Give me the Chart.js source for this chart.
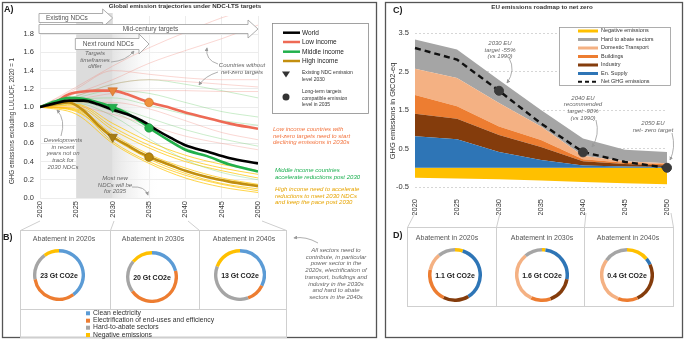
<!DOCTYPE html>
<html>
<head>
<meta charset="utf-8">
<script src="https://cdn.jsdelivr.net/npm/chart.js@4.4.1/dist/chart.umd.min.js"></script>
<style>
  html, body { margin: 0; padding: 0; background: #fff; }
  #root { position: relative; width: 685px; height: 341px; overflow: hidden; font-family: "Liberation Sans", Arial, sans-serif; color: #333; }
  #root canvas { position: absolute; }
  #deco { position: absolute; left: 0; top: 0; }
  .t { position: absolute; white-space: nowrap; line-height: 1; }
  .c { transform: translateX(-50%); text-align: center; }
  .pl { font-weight: bold; font-size: 9px; color: #222; }
  .hd { font-weight: bold; font-size: 6.2px; color: #333; }
  .hand { font-style: italic; font-size: 6px; line-height: 6.7px; color: #666; }
  .ttl { font-size: 7px; color: #555; }
  .ctr { font-size: 7px; font-weight: bold; color: #222; transform: translate(-50%, -50%); }
  .rot { transform: translate(-50%, -50%) rotate(-90deg); }
  .lg { font-size: 6.5px; color: #222; }
  .lgs { font-size: 5px; line-height: 6.5px; color: #333; }
  .lgc { font-size: 5.5px; color: #333; }
  .lgb { font-size: 6.8px; color: #333; }
</style>
</head>
<body>
<div id="root">
  <canvas id="chartA" width="270" height="225" style="left:0;top:0"></canvas>
  <canvas id="chartC" width="295" height="215" style="left:385px;top:0"></canvas>
  <canvas id="donutB1" width="52" height="52" style="left:33px;top:249px"></canvas>
  <canvas id="donutB2" width="52" height="52" style="left:126px;top:251px"></canvas>
  <canvas id="donutB3" width="52" height="52" style="left:214px;top:249px"></canvas>
  <canvas id="donutD1" width="54" height="54" style="left:428px;top:248px"></canvas>
  <canvas id="donutD2" width="54" height="54" style="left:515px;top:248px"></canvas>
  <canvas id="donutD3" width="54" height="54" style="left:600px;top:248px"></canvas>

  <svg id="deco" width="685" height="341">
    <defs>
      <marker id="ah" viewBox="0 0 6 6" refX="5" refY="3" markerWidth="5" markerHeight="5" orient="auto">
        <path d="M0,0 L6,3 L0,6 z" fill="#9a9a9a"/>
      </marker>
    </defs>
    <g fill="none" stroke="#555" stroke-width="1.3">
      <rect x="2.5" y="2.5" width="374" height="335"/>
      <rect x="385.5" y="2.5" width="297" height="335"/>
    </g>
    <g fill="none" stroke="#cfcfcf" stroke-width="1">
      <rect x="20.5" y="230.5" width="266" height="107"/>
      <line x1="110.5" y1="230.5" x2="110.5" y2="309.5"/>
      <line x1="199.5" y1="230.5" x2="199.5" y2="309.5"/>
      <line x1="20.5" y1="309.5" x2="286.5" y2="309.5"/>
      <line x1="40" y1="221" x2="20.5" y2="230.5"/>
      <line x1="114" y1="221" x2="110.5" y2="230.5"/>
      <line x1="188" y1="221" x2="199.5" y2="230.5"/>
      <line x1="262" y1="221" x2="286.5" y2="230.5"/>
      <rect x="407.5" y="227.5" width="266" height="79"/>
      <line x1="496.5" y1="227.5" x2="496.5" y2="306.5"/>
      <line x1="584.5" y1="227.5" x2="584.5" y2="306.5"/>
      <line x1="415" y1="213" x2="407.5" y2="227.5"/>
      <line x1="500" y1="213" x2="496.5" y2="227.5"/>
      <line x1="586" y1="213" x2="584.5" y2="227.5"/>
      <line x1="671" y1="213" x2="673.5" y2="227.5"/>
    </g>
    <g fill="none" stroke="#9a9a9a" stroke-width="0.8" marker-end="url(#ah)">
      <path d="M111,62 Q126,61 134,51"/>
      <path d="M218,64 Q205,60 207,48"/>
      <path d="M218,72 Q205,76 199,85"/>
      <path d="M61,136 Q66,120 57,110"/>
      <path d="M132,187 Q145,186 148,195"/>
      <path d="M318,243 Q306,236 294,238"/>
      <path d="M509,58 Q516,70 507,83"/>
      <path d="M596,120 Q600,135 592,147"/>
      <path d="M672,133 Q676,148 670,160"/>
    </g>
    <!-- legend A -->
    <rect x="272.5" y="23.5" width="96" height="90" fill="#fff" stroke="#8a8a8a" stroke-width="0.8"/>
    <g stroke-width="2.5">
      <line x1="283" y1="32.7" x2="300" y2="32.7" stroke="#000"/>
      <line x1="283" y1="42" x2="300" y2="42" stroke="#ee6a55"/>
      <line x1="283" y1="51.7" x2="300" y2="51.7" stroke="#22b04b"/>
      <line x1="283" y1="61" x2="300" y2="61" stroke="#c38f0f"/>
    </g>
    <path d="M282,71.5 L290,71.5 L286,77.5 z" fill="#333"/>
    <circle cx="286" cy="97" r="3.5" fill="#333"/>
    <!-- legend B -->
    <rect x="86" y="311.3" width="4" height="4" fill="#5b9bd5"/>
    <rect x="86" y="318.7" width="4" height="4" fill="#ed7d31"/>
    <rect x="86" y="325.7" width="4" height="4" fill="#a5a5a5"/>
    <rect x="86" y="333" width="4" height="4" fill="#ffc000"/>
    <!-- legend C -->
    <rect x="559.5" y="27.5" width="111" height="58" fill="#fff" stroke="#9a9a9a" stroke-width="0.8"/>
    <g>
      <rect x="578" y="29.5" width="20" height="3" fill="#ffc000"/>
      <rect x="578" y="38" width="20" height="3" fill="#a5a5a5"/>
      <rect x="578" y="46.5" width="20" height="3" fill="#f4b183"/>
      <rect x="578" y="55" width="20" height="3" fill="#ed7d31"/>
      <rect x="578" y="63.5" width="20" height="3" fill="#843c0c"/>
      <rect x="578" y="72" width="20" height="3" fill="#2e75b6"/>
      <line x1="578" y1="81.7" x2="598" y2="81.7" stroke="#111" stroke-width="2" stroke-dasharray="4,3"/>
    </g>
  </svg>

  <!-- panel A texts -->
  <div class="t pl" style="left:4px;top:5px">A)</div>
  <div class="t hd c" style="left:185px;top:3px">Global emission trajectories under NDC-LTS targets</div>
  <div class="t rot" style="left:12px;top:121px;font-size:6.3px;color:#333">GHG emissions excluding LULUCF, 2020 = 1</div>
  <div class="t hand c" style="left:95px;top:50px">Targets<br>timeframes<br>differ</div>
  <div class="t hand c" style="left:242px;top:62px">Countries without<br>net-zero targets</div>
  <div class="t hand c" style="left:63px;top:137px">Developments<br>in recent<br>years not on<br>track for<br>2030 NDCs</div>
  <div class="t hand c" style="left:115px;top:175px">Most new<br>NDCs will be<br>for 2035</div>
  <div class="t hand" style="left:273px;top:126px;color:#f2733e;text-align:left">Low income countries with<br>net-zero targets need to start<br>declining emissions in 2030s</div>
  <div class="t hand" style="left:275px;top:167px;color:#1aaf4f;text-align:left">Middle income countries<br>accelerate reductions post 2030</div>
  <div class="t hand" style="left:275px;top:186px;color:#e6a400;text-align:left">High income need to accelerate<br>reductions to meet 2030 NDCs<br>and keep the pace post 2030</div>
  <div class="t lg" style="left:302px;top:29.5px">World</div>
  <div class="t lg" style="left:302px;top:38.8px">Low income</div>
  <div class="t lg" style="left:302px;top:48.5px">Middle income</div>
  <div class="t lg" style="left:302px;top:57.8px">High income</div>
  <div class="t lgs" style="left:302px;top:69px">Existing NDC emission<br>level 2030</div>
  <div class="t lgs" style="left:302px;top:88px">Long-term targets<br>compatible emission<br>level in 2035</div>

  <!-- panel B texts -->
  <div class="t pl" style="left:3px;top:233px">B)</div>
  <div class="t ttl c" style="left:64px;top:234.5px">Abatement in 2020s</div>
  <div class="t ttl c" style="left:153px;top:234.5px">Abatement in 2030s</div>
  <div class="t ttl c" style="left:244px;top:234.5px">Abatement in 2040s</div>
  <div class="t ctr" style="left:59px;top:275px">23 Gt CO2e</div>
  <div class="t ctr" style="left:152px;top:277px">20 Gt CO2e</div>
  <div class="t ctr" style="left:240px;top:275px">13 Gt CO2e</div>
  <div class="t lgb" style="left:93px;top:310px">Clean electricity</div>
  <div class="t lgb" style="left:93px;top:317.3px">Electrification of end-uses and efficiency</div>
  <div class="t lgb" style="left:93px;top:324.4px">Hard-to-abate sectors</div>
  <div class="t lgb" style="left:93px;top:331.6px">Negative emissions</div>
  <div class="t hand c" style="left:336px;top:247px">All sectors need to<br>contribute, in particular<br>power sector in the<br>2020s, electrification of<br>transport, buildings and<br>industry in the 2030s<br>and hard to abate<br>sectors in the 2040s</div>

  <!-- panel C texts -->
  <div class="t pl" style="left:393px;top:6px">C)</div>
  <div class="t hd c" style="left:542px;top:4px">EU emissions roadmap to net zero</div>
  <div class="t rot" style="left:393px;top:111px;font-size:7.5px;color:#333">GHG emissions in GtCO2-eq</div>
  <div class="t lgc" style="left:601px;top:28px">Negative emissions</div>
  <div class="t lgc" style="left:601px;top:36.5px">Hard to abate sectors</div>
  <div class="t lgc" style="left:601px;top:45px">Domestic Transport</div>
  <div class="t lgc" style="left:601px;top:53.5px">Buildings</div>
  <div class="t lgc" style="left:601px;top:62px">Industry</div>
  <div class="t lgc" style="left:601px;top:70.5px">En. Supply</div>
  <div class="t lgc" style="left:601px;top:79px">Net GHG emissions</div>
  <div class="t hand c" style="left:500px;top:40px">2030 EU<br>target -55%<br>(vs 1990)</div>
  <div class="t hand c" style="left:583px;top:94.5px">2040 EU<br>recommended<br>target -90%<br>(vs 1990)</div>
  <div class="t hand c" style="left:653px;top:120px">2050 EU<br>net- zero target</div>

  <!-- panel D texts -->
  <div class="t pl" style="left:393px;top:231px">D)</div>
  <div class="t ttl c" style="left:447px;top:233.5px">Abatement in 2020s</div>
  <div class="t ttl c" style="left:542px;top:233.5px">Abatement in 2030s</div>
  <div class="t ttl c" style="left:628px;top:233.5px">Abatement in 2040s</div>
  <div class="t ctr" style="left:455px;top:275px">1.1 Gt CO2e</div>
  <div class="t ctr" style="left:542px;top:275px">1.6 Gt CO2e</div>
  <div class="t ctr" style="left:627px;top:275px">0.4 Gt CO2e</div>
</div>

<script>
// ---- panel A: global trajectories (2020 = 1) ----
const A_YEARS = [2020, 2022, 2024, 2026, 2028, 2030, 2032, 2034, 2036, 2038, 2040, 2043, 2046, 2050];
const WORLD         = [1.00, 1.04, 1.07, 1.07, 1.03, 0.97, 0.92, 0.85, 0.75, 0.66, 0.58, 0.51, 0.44, 0.38];
const LOW_INCOME    = [1.00, 1.05, 1.14, 1.17, 1.18, 1.18, 1.14, 1.08, 1.03, 0.99, 0.94, 0.88, 0.82, 0.76];
const MIDDLE_INCOME = [1.00, 1.06, 1.10, 1.09, 1.05, 1.00, 0.93, 0.83, 0.72, 0.62, 0.53, 0.46, 0.37, 0.29];
const HIGH_INCOME   = [1.00, 1.03, 1.05, 0.96, 0.80, 0.67, 0.58, 0.49, 0.42, 0.36, 0.30, 0.23, 0.18, 0.13];

// single countries, faint lines
const COUNTRY_YEARS = [2020, 2025, 2030, 2035, 2040, 2045, 2050];
const LOW_COUNTRIES = [
  [1.00, 1.22, 1.45, 1.65, 1.82, 1.98, 2.10],
  [1.00, 1.15, 1.30, 1.48, 1.62, 1.75, 1.90],
  [1.00, 1.20, 1.40, 1.36, 1.32, 1.30, 1.30],
  [1.00, 1.12, 1.25, 1.30, 1.28, 1.25, 1.22],
  [1.00, 1.08, 1.15, 1.18, 1.18, 1.17, 1.17],
  [1.00, 1.05, 1.05, 0.98, 0.85, 0.72, 0.64],
  [1.00, 1.00, 0.92, 0.80, 0.68, 0.60, 0.53],
];
const MIDDLE_COUNTRIES = [
  [1.00, 1.12, 1.25, 1.30, 1.25, 1.18, 1.10],
  [1.00, 1.10, 1.18, 1.15, 1.05, 0.95, 0.89],
  [1.00, 1.08, 1.10, 1.02, 0.92, 0.85, 0.80],
  [1.00, 1.05, 1.00, 0.88, 0.75, 0.65, 0.57],
  [1.00, 1.06, 0.95, 0.75, 0.55, 0.40, 0.30],
  [1.00, 1.04, 0.90, 0.65, 0.42, 0.28, 0.20],
];
const HIGH_COUNTRIES = [
  [1.00, 1.03, 0.82, 0.62, 0.47, 0.37, 0.30],
  [1.00, 1.00, 0.75, 0.55, 0.40, 0.30, 0.22],
  [1.00, 0.98, 0.70, 0.48, 0.33, 0.22, 0.15],
  [1.00, 0.95, 0.66, 0.43, 0.27, 0.16, 0.10],
  [1.00, 0.97, 0.68, 0.45, 0.30, 0.20, 0.14],
  [1.00, 0.92, 0.60, 0.38, 0.22, 0.12, 0.06],
  [1.00, 1.02, 0.78, 0.58, 0.43, 0.33, 0.26],
  [1.00, 0.96, 0.62, 0.40, 0.25, 0.15, 0.08],
];

// markers per group: low, middle, high
const NDC_2030 = [1.18, 1.00, 0.67];
const LTS_2035 = [1.05, 0.77, 0.45];

const A_X_TICKS = [2020, 2025, 2030, 2035, 2040, 2045, 2050];
const A_Y_TICKS = [0, 0.2, 0.4, 0.6, 0.8, 1.0, 1.2, 1.4, 1.6, 1.8];
const NDC_BAND = [2025, 2030];
const FADE_END = 2037;
const BANNERS = [
  { label: 'Existing NDCs',       from: 2020, to: 2030, at: 2023.7 },
  { label: 'Mid-century targets', from: 2020, to: 2050, at: 2035.2 },
  { label: 'Next round NDCs',     from: 2025, to: 2035, at: 2029.4 },
];

// ---- panel C: EU roadmap (GtCO2-eq) ----
const EU_YEARS     = [2020, 2025, 2030, 2035, 2040, 2045, 2050];
const EU_SUPPLY    = [0.82, 0.74, 0.41, 0.20, 0.06, 0.03, 0.02];
const EU_INDUSTRY  = [0.58, 0.53, 0.44, 0.34, 0.11, 0.07, 0.04];
const EU_BUILDINGS = [0.49, 0.33, 0.22, 0.18, 0.05, 0.03, 0.03];
const EU_TRANSPORT = [0.68, 0.73, 0.61, 0.35, 0.09, 0.04, 0.03];
const EU_HARD      = [0.76, 0.74, 0.60, 0.43, 0.45, 0.30, 0.29];
const EU_NEGATIVE  = [-0.26, -0.28, -0.30, -0.33, -0.37, -0.40, -0.43];
const EU_NET       = [3.11, 2.81, 2.00, 1.15, 0.41, 0.15, 0.00];
const EU_TARGET_YEARS  = ['2030', '2040', '2050'];
const EU_TARGET_VALUES = [2.0, 0.4, 0.0];
const EU_Y_TICKS = [-0.5, 0.5, 1.5, 2.5, 3.5];

// ---- panels B and D: abatement donuts ----
const GLOBAL_ABATE_2020S = [9.2, 7.4, 4.1, 2.3];   // clean elec, electrification, hard-to-abate, negative
const GLOBAL_ABATE_2030S = [4.2, 8.8, 4.2, 2.8];
const GLOBAL_ABATE_2040S = [4.2, 1.6, 4.7, 2.5];
const EU_ABATE_2020S = [0.055, 0.40, 0.18, 0.23, 0.12, 0.12];  // negative, supply, industry, buildings, transport, hard
const EU_ABATE_2030S = [0.035, 0.41, 0.27, 0.20, 0.51, 0.18];
const EU_ABATE_2040S = [0.056, 0.017, 0.10, 0.05, 0.117, 0.06];

Chart.defaults.font.family = '"Liberation Sans", Arial, sans-serif';
Chart.defaults.color = '#333';

const xy = (years, vals) => vals.map((v, i) => ({ x: years[i], y: v }));

const bandPlugin = {
  id: 'bands',
  beforeDatasetsDraw(chart) {
    const { ctx, chartArea: a, scales: { x } } = chart;
    const b0 = x.getPixelForValue(NDC_BAND[0]), b1 = x.getPixelForValue(NDC_BAND[1]);
    const f1 = x.getPixelForValue(FADE_END);
    ctx.save();
    ctx.fillStyle = '#dcdcdc';
    ctx.fillRect(b0, 13, b1 - b0, a.bottom - 13);
    const g = ctx.createLinearGradient(b1, 0, f1, 0);
    g.addColorStop(0, '#e4e4e4');
    g.addColorStop(1, 'rgba(255,255,255,0)');
    ctx.fillStyle = g;
    ctx.fillRect(b1, 30, f1 - b1, a.bottom - 30);
    ctx.restore();
  },
  afterDatasetsDraw(chart) {
    const { ctx, scales: { x } } = chart;
    const rows = [[13.5, 22.5, 9, 27], [24.5, 33.5, 20, 38], [38.5, 49.5, 34, 54]];
    ctx.save();
    BANNERS.forEach((b, i) => {
      const [t, bt, ht, hb] = rows[i];
      const x0 = x.getPixelForValue(b.from) - 1, x1 = x.getPixelForValue(b.to), hx = x1 - 10;
      ctx.beginPath();
      ctx.moveTo(x0, t); ctx.lineTo(hx, t); ctx.lineTo(hx, ht); ctx.lineTo(x1, (t + bt) / 2);
      ctx.lineTo(hx, hb); ctx.lineTo(hx, bt); ctx.lineTo(x0, bt); ctx.closePath();
      ctx.fillStyle = '#fff'; ctx.fill();
      ctx.strokeStyle = '#9a9a9a'; ctx.lineWidth = 0.8; ctx.stroke();
      ctx.fillStyle = '#555';
      ctx.font = '6.5px "Liberation Sans", Arial, sans-serif';
      ctx.textAlign = 'center'; ctx.textBaseline = 'middle';
      ctx.fillText(b.label, x.getPixelForValue(b.at), (t + bt) / 2 + 0.5);
    });
    ctx.restore();
  }
};

const faint = (list, color, width) => list.map(vals => ({
  data: xy(COUNTRY_YEARS, vals), borderColor: color, borderWidth: width, order: 10
}));

new Chart(document.getElementById('chartA'), {
  type: 'line',
  data: {
    datasets: [
      ...faint(LOW_COUNTRIES, 'rgba(240,130,115,0.4)', 0.8),
      ...faint(MIDDLE_COUNTRIES, 'rgba(110,205,110,0.45)', 0.8),
      ...faint(HIGH_COUNTRIES, 'rgba(255,196,0,0.8)', 0.9),
      { data: xy(A_YEARS, HIGH_INCOME), borderColor: '#c08e10', borderWidth: 2.6, order: 3 },
      { data: xy(A_YEARS, LOW_INCOME), borderColor: '#ee6a55', borderWidth: 2.6, order: 2 },
      { data: xy(A_YEARS, MIDDLE_INCOME), borderColor: '#22b04b', borderWidth: 2.6, order: 1 },
      { data: xy(A_YEARS, WORLD), borderColor: '#000', borderWidth: 2.6, order: 0 },
      { data: NDC_2030.map(v => ({ x: 2030, y: v })), showLine: false, order: -1,
        pointStyle: 'triangle', rotation: 180, pointRadius: 5.5,
        pointBackgroundColor: ['#e8863a', '#22b04b', '#a67c12'], pointBorderColor: ['#c86a20', '#17913b', '#86600a'], pointBorderWidth: 0.6 },
      { data: LTS_2035.map(v => ({ x: 2035, y: v })), showLine: false, order: -1,
        pointStyle: 'circle', pointRadius: 4.3,
        pointBackgroundColor: ['#f0913c', '#22b04b', '#b8870c'], pointBorderColor: ['#c86a20', '#17913b', '#86600a'], pointBorderWidth: 0.6 },
    ]
  },
  options: {
    responsive: false,
    animation: false,
    layout: { padding: { top: 16, right: 8, left: 0, bottom: 0 } },
    plugins: { legend: { display: false }, tooltip: { enabled: false } },
    elements: { point: { radius: 0 }, line: { cubicInterpolationMode: 'monotone' } },
    scales: {
      x: {
        type: 'linear', min: 2020, max: 2050,
        afterBuildTicks: s => { s.ticks = A_X_TICKS.map(v => ({ value: v })); },
        ticks: { minRotation: 90, maxRotation: 90, padding: 3, font: { size: 7.5 }, callback: v => String(v) },
        grid: { color: '#ececec', drawTicks: false },
        border: { display: false },
        afterFit: s => { s.height = 27; }
      },
      y: {
        min: 0, max: 2.0,
        afterBuildTicks: s => { s.ticks = A_Y_TICKS.map(v => ({ value: v })); },
        ticks: { padding: 6, font: { size: 7.5 }, callback: v => v.toFixed(1) },
        grid: { color: '#ececec', drawTicks: false },
        border: { display: false },
        afterFit: s => { s.width = 40; }
      }
    }
  },
  plugins: [bandPlugin]
});

new Chart(document.getElementById('chartC'), {
  type: 'line',
  data: {
    labels: EU_YEARS.map(String),
    datasets: [
      { label: 'En. Supply', data: EU_SUPPLY, backgroundColor: '#2e75b6', fill: 'origin', stack: 'pos', borderWidth: 0 },
      { label: 'Industry', data: EU_INDUSTRY, backgroundColor: '#843c0c', fill: '-1', stack: 'pos', borderWidth: 0 },
      { label: 'Buildings', data: EU_BUILDINGS, backgroundColor: '#ed7d31', fill: '-1', stack: 'pos', borderWidth: 0 },
      { label: 'Domestic Transport', data: EU_TRANSPORT, backgroundColor: '#f4b183', fill: '-1', stack: 'pos', borderWidth: 0 },
      { label: 'Hard to abate sectors', data: EU_HARD, backgroundColor: '#a5a5a5', fill: '-1', stack: 'pos', borderWidth: 0 },
      { label: 'Negative emissions', data: EU_NEGATIVE, backgroundColor: '#ffc000', fill: 'origin', stack: 'neg', borderWidth: 0 },
      { label: 'Net GHG emissions', data: EU_NET, stack: 'net', fill: false, borderColor: '#111',
        borderWidth: 2.4, borderDash: [6, 4], order: -1 },
      { label: 'targets', data: EU_TARGET_YEARS.map((y, i) => ({ x: y, y: EU_TARGET_VALUES[i] })), stack: 'tg',
        showLine: false, pointRadius: 4.5, pointBackgroundColor: '#3a3a3a', pointBorderColor: '#3a3a3a', order: -2 },
    ]
  },
  options: {
    responsive: false,
    animation: false,
    layout: { padding: { top: 33, right: 9, left: 0, bottom: 0 } },
    plugins: { legend: { display: false }, tooltip: { enabled: false } },
    elements: { point: { radius: 0 }, line: { tension: 0 } },
    scales: {
      x: {
        ticks: { minRotation: 90, maxRotation: 90, padding: 4, font: { size: 7.5 } },
        grid: { display: false },
        border: { display: false },
        afterFit: s => { s.height = 28; }
      },
      y: {
        stacked: true, min: -0.5, max: 3.5,
        afterBuildTicks: s => { s.ticks = EU_Y_TICKS.map(v => ({ value: v })); },
        ticks: { padding: 6, font: { size: 7.5 }, callback: v => v.toFixed(1) },
        grid: { color: '#d6d6d6', drawTicks: false },
        border: { display: false, dash: [2, 2] },
        afterFit: s => { s.width = 30; }
      }
    }
  }
});

const GLOBAL_COLORS = ['#5b9bd5', '#ed7d31', '#a5a5a5', '#ffc000'];
const EU_COLORS = ['#ffc000', '#2e75b6', '#843c0c', '#ed7d31', '#f4b183', '#a5a5a5'];

function donut(id, values, colors) {
  new Chart(document.getElementById(id), {
    type: 'doughnut',
    data: { datasets: [{ data: values, backgroundColor: colors, borderWidth: 0 }] },
    options: {
      responsive: false, animation: false, cutout: '87%',
      plugins: { legend: { display: false }, tooltip: { enabled: false } }
    }
  });
}
donut('donutB1', GLOBAL_ABATE_2020S, GLOBAL_COLORS);
donut('donutB2', GLOBAL_ABATE_2030S, GLOBAL_COLORS);
donut('donutB3', GLOBAL_ABATE_2040S, GLOBAL_COLORS);
donut('donutD1', EU_ABATE_2020S, EU_COLORS);
donut('donutD2', EU_ABATE_2030S, EU_COLORS);
donut('donutD3', EU_ABATE_2040S, EU_COLORS);
</script>
</body>
</html>
